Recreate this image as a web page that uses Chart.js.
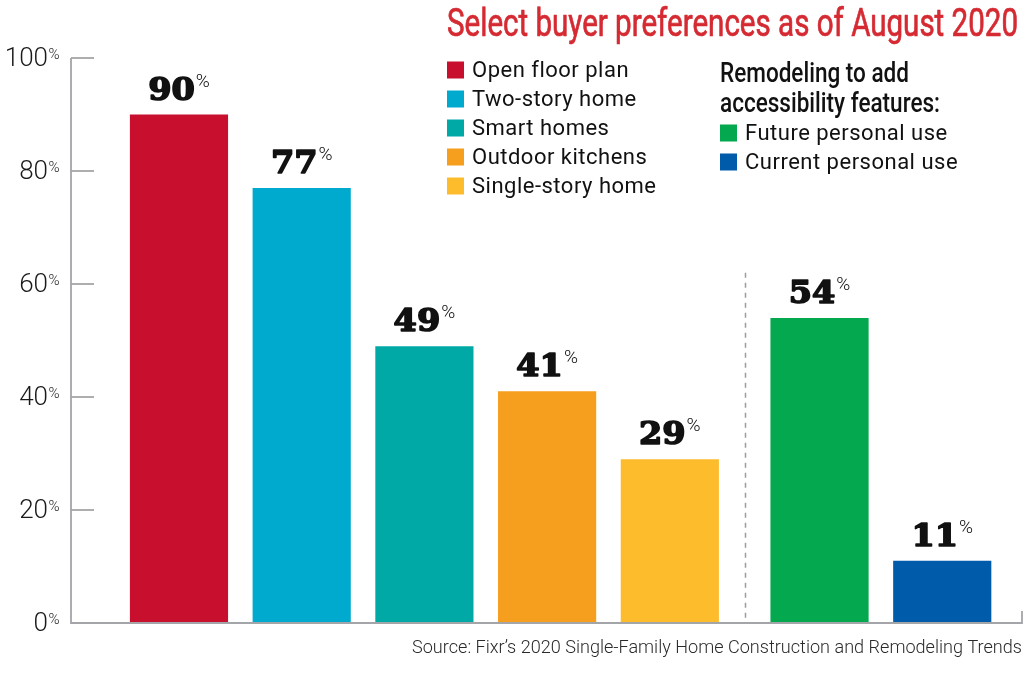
<!DOCTYPE html>
<html><head><meta charset="utf-8">
<script src="https://cdn.jsdelivr.net/npm/chart.js@4"></script>
<style>html,body{margin:0;padding:0;background:#fff;}canvas{display:block;}</style>
</head><body>
<canvas id="c" width="1024" height="673"></canvas>
<script>
// ---- data ----
const categories = ['Open floor plan','Two-story home','Smart homes','Outdoor kitchens','Single-story home','Future personal use','Current personal use'];
const values = [90, 77, 49, 41, 29, 54, 11];
const groups = ['buyer','buyer','buyer','buyer','buyer','access','access'];
const colors = ['#c8102e','#00a9ce','#00a8a6','#f69e1e','#fdbc2c','#04a84e','#005baa'];
const yTicks = [0, 20, 40, 60, 80, 100];
const titleText = 'Select buyer preferences as of August 2020';
const accessHeading = ['Remodeling to add', 'accessibility features:'];
const sourceText = 'Source: Fixr\u2019s 2020 Single-Family Home Construction and Remodeling Trends';

// ---- layout helpers ----
const GROUP_GAP = 0.22;
const xs = [];
(function(){ let off = 0; groups.forEach((g,i)=>{ if(i>0 && g!==groups[i-1]) off += GROUP_GAP; xs.push(i+off); }); })();
const AXIS = '#a3a5a8';

function drawFit(ctx, text, x, y, font, color, align, targetW, strokeW){
  ctx.save();
  ctx.font = font; ctx.fillStyle = color; ctx.textBaseline = 'alphabetic'; ctx.textAlign = 'left';
  const mw = ctx.measureText(text).width;
  const sx = targetW ? targetW / mw : 1;
  const w = mw * sx;
  const x0 = align === 'right' ? x - w : (align === 'center' ? x - w/2 : x);
  ctx.translate(x0, y); ctx.scale(sx, 1);
  if (strokeW) { ctx.strokeStyle = color; ctx.lineWidth = strokeW; ctx.lineJoin = 'round'; ctx.strokeText(text, 0, 0); }
  ctx.fillText(text, 0, 0);
  ctx.restore();
  return sx;
}
function drawScaled(ctx, text, x, y, font, color, sx, strokeW){
  ctx.save();
  ctx.font = font; ctx.fillStyle = color; ctx.textBaseline = 'alphabetic'; ctx.textAlign = 'left';
  ctx.translate(x, y); ctx.scale(sx, 1);
  if (strokeW) { ctx.strokeStyle = color; ctx.lineWidth = strokeW; ctx.lineJoin = 'round'; ctx.strokeText(text, 0, 0); }
  ctx.fillText(text, 0, 0);
  ctx.restore();
}

const decor = {
  id: 'decor',
  afterDatasetsDraw(chart){
    const ctx = chart.ctx, xS = chart.scales.x, yS = chart.scales.y, a = chart.chartArea;
    ctx.save();
    // separator(s) between groups
    ctx.strokeStyle = '#9c9c9c'; ctx.lineWidth = 1.5; ctx.setLineDash([5,5]);
    for (let i = 1; i < groups.length; i++) {
      if (groups[i] !== groups[i-1]) {
        const px = Math.round((xS.getPixelForValue(xs[i-1]) + xS.getPixelForValue(xs[i])) / 2) + 0.5;
        ctx.beginPath(); ctx.moveTo(px, yS.getPixelForValue(62)); ctx.lineTo(px, a.bottom); ctx.stroke();
      }
    }
    ctx.setLineDash([]);
    // axes
    ctx.strokeStyle = AXIS; ctx.lineWidth = 1.8;
    ctx.beginPath();
    ctx.moveTo(a.left, yS.getPixelForValue(100)); ctx.lineTo(a.left, a.bottom);
    ctx.lineTo(a.right, a.bottom); ctx.lineTo(a.right, a.bottom - 12);
    ctx.stroke();
    yTicks.forEach(t => {
      const py = yS.getPixelForValue(t);
      if (t > 0) { ctx.beginPath(); ctx.moveTo(a.left, py); ctx.lineTo(a.left + 23, py); ctx.stroke(); }
      ctx.font = '300 26px Roboto'; ctx.fillStyle = '#1a1a1a'; ctx.textAlign = 'right'; ctx.textBaseline = 'middle';
      ctx.fillText(String(t), 48, py + 1);
      ctx.font = '300 15px Roboto'; ctx.textAlign = 'left'; ctx.textBaseline = 'alphabetic';
      ctx.fillText('%', 48.5, py + 1);
    });
    // value labels
    const meta = chart.getDatasetMeta(0);
    meta.data.forEach((bar, i) => {
      const numFont = 'bold 31px "DejaVu Serif"', pctFont = '300 19px Roboto', sx = 1.08;
      ctx.font = numFont; const wn = ctx.measureText(String(values[i])).width * sx;
      ctx.font = pctFont; const wp = ctx.measureText('%').width;
      const gap = 1;
      const total = wn + gap + wp;
      const x0 = bar.x - total / 2;
      const base = bar.y - 15;
      drawScaled(ctx, String(values[i]), x0, base, numFont, '#111', sx, 1.6);
      drawScaled(ctx, '%', x0 + wn + gap, base - 13, pctFont, '#111', 1);
    });
    // title
    drawFit(ctx, titleText, 1018, 36, '400 38px Roboto', '#d52a32', 'right', 571, 0.7);
    // legend
    const g0 = groups[0];
    let rowL = 0, rowR = 0;
    const sq = 17, step = 29;
    const hsx = drawFit(ctx, accessHeading[0], 720, 82, '500 27px Roboto', '#111', 'left', 189);
    drawScaled(ctx, accessHeading[1], 720, 112, '500 27px Roboto', '#111', hsx);
    categories.forEach((c, i) => {
      let x, cy;
      if (groups[i] === g0) { x = 447; cy = 70 + step * rowL++; }
      else { x = 720; cy = 133 + step * rowR++; }
      ctx.fillStyle = colors[i];
      ctx.fillRect(x, cy - sq/2, sq, sq);
      ctx.save();
      ctx.font = '400 22px Roboto'; ctx.letterSpacing = '0.5px';
      ctx.fillStyle = '#111'; ctx.textAlign = 'left'; ctx.textBaseline = 'middle';
      ctx.fillText(c, x + 25, cy + 1);
      ctx.restore();
    });
    // source
    drawFit(ctx, sourceText, 1022, 653, '300 19px Roboto', '#2a2a2a', 'right', 610);
    ctx.restore();
  }
};

new Chart(document.getElementById('c'), {
  type: 'bar',
  data: {
    labels: categories,
    datasets: [{
      data: values.map((v, i) => ({ x: xs[i], y: v })),
      backgroundColor: colors,
      borderWidth: 0,
      categoryPercentage: 1,
      barPercentage: 0.8
    }]
  },
  options: {
    responsive: false,
    animation: false,
    layout: { padding: { left: 71, right: 2, top: 58, bottom: 50 } },
    scales: {
      x: { type: 'linear', display: false, offset: false, min: xs[0] - 0.88, max: xs[xs.length - 1] + 0.65,
           ticks: { stepSize: 1, includeBounds: false } },
      y: { display: false, min: 0, max: 100, ticks: { stepSize: 20 } }
    },
    plugins: { legend: { display: false }, tooltip: { enabled: false } }
  },
  plugins: [decor]
});
</script>
</body></html>
